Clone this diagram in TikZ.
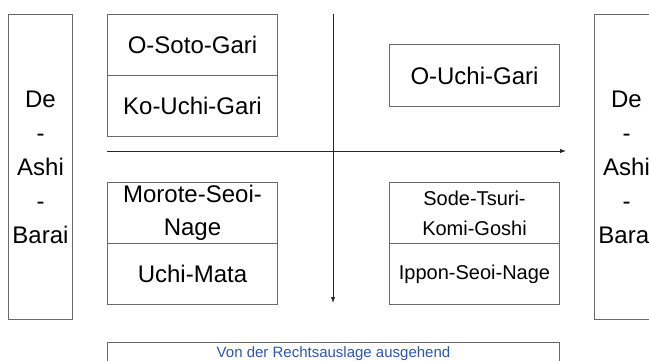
\documentclass[tikz,border=0pt]{standalone}
\usepackage{fontspec}
\setmainfont{Liberation Sans}
\usetikzlibrary{arrows.meta}
\definecolor{boxline}{RGB}{105,105,105}
\definecolor{arrowline}{RGB}{40,40,40}
\definecolor{labelblue}{RGB}{45,85,175}
\begin{document}
\begin{tikzpicture}[x=1pt,y=-1pt,
  cell/.style={draw=boxline, line width=1pt, inner sep=0pt, align=center,
    text=black, anchor=north west, minimum width=170pt, minimum height=61pt,
    font=\fontsize{24}{33}\selectfont},
  smallcell/.style={cell, font=\fontsize{20}{30}\selectfont},
  sidebox/.style={cell, minimum width=64pt, minimum height=305pt,
    font=\fontsize{24}{34}\selectfont},
  labelbox/.style={draw=boxline, line width=1pt, inner sep=0pt, anchor=north west,
    minimum width=452pt, minimum height=22pt, text=labelblue,
    font=\fontsize{15}{18}\selectfont},
  axis/.style={draw=arrowline, line width=0.9pt, -{Latex[length=6pt,width=4.5pt]}}]
\useasboundingbox (0,0) rectangle (649,360);

% side boxes
\node[sidebox] (left) at (8,14) {De\\-\\Ashi\\-\\Barai};
\node[sidebox] (right) at (594,14) {De\\-\\Ashi\\-\\Barai};

% top left
\node[cell] (osoto) at (107,14) {O-Soto-Gari};
\node[cell] (kouchi) at (107,75) {Ko-Uchi-Gari};

% top right
\node[cell, minimum height=62pt] (ouchi) at (389,44) {O-Uchi-Gari};

% bottom left
\node[cell] (morote) at (107,182) {Morote-Seoi-\\Nage};
\node[cell] (uchimata) at (107,243) {Uchi-Mata};

% bottom right
\node[smallcell] (sode) at (389,182) {Sode-Tsuri-\\Komi-Goshi};
\node[smallcell] (ippon) at (389,243) {Ippon-Seoi-Nage};

% label
\node[labelbox] (label) at (107,342) {Von der Rechtsauslage ausgehend};

% axes
\coordinate (hstart) at (107,151);
\coordinate (hend) at (566,151);
\coordinate (vstart) at (333,14);
\coordinate (vend) at (333,303);
\draw[axis] (hstart) -- (hend);
\draw[axis] (vstart) -- (vend);
\end{tikzpicture}
\end{document}
